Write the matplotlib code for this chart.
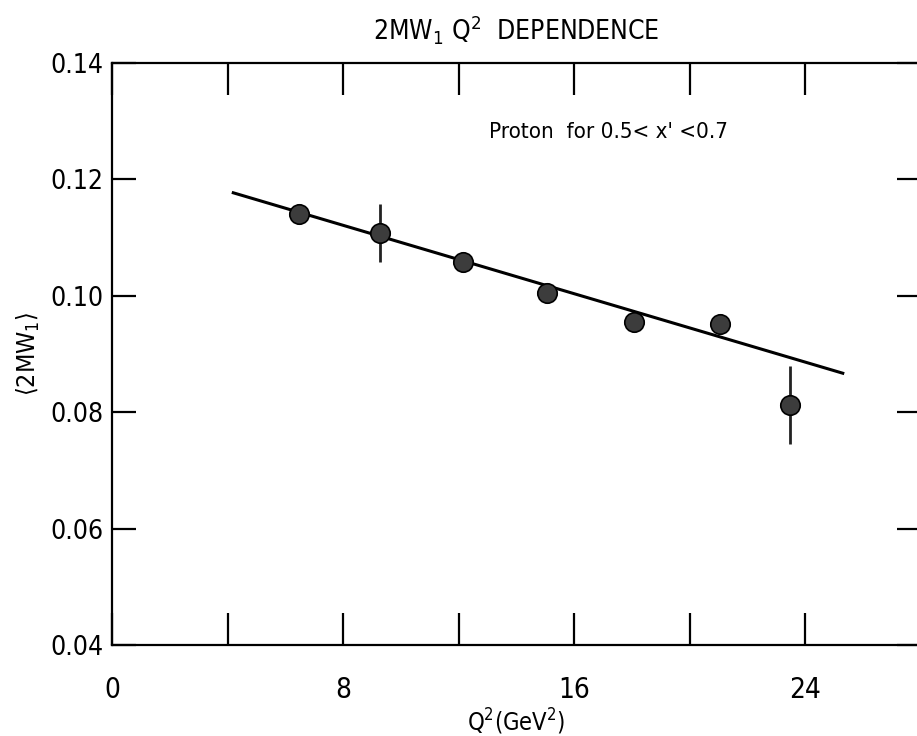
import numpy as np
import matplotlib
matplotlib.use("Agg")
import matplotlib.pyplot as plt

plt.rcParams['font.family'] = ['DejaVu Sans']
plt.rcParams['font.stretch'] = 'condensed'

# data
q2 = [6.47, 9.27, 12.15, 15.05, 18.06, 21.04, 23.46]
w1 = [0.1141, 0.1108, 0.1058, 0.1005, 0.0955, 0.0952, 0.0812]
w1_err = [0.0012, 0.0050, 0.0012, 0.0012, 0.0012, 0.0012, 0.0067]

# straight-line fit drawn through the points
fit_q2 = [4.2, 25.3]
fit_w1 = [0.1177, 0.0867]

xticks = [0, 4, 8, 12, 16, 20, 24, 28]
xticklabels = ['0', '', '8', '', '16', '', '24', '']
yticks = [0.04, 0.06, 0.08, 0.10, 0.12, 0.14]
yticklabels = ['0.04', '0.06', '0.08', '0.10', '0.12', '0.14']

fig = plt.figure(figsize=(9.17, 7.36), dpi=100)
# right spine sits just off the image, like the cropped scan
ax = fig.add_axes([0.1221, 0.1236, 0.882, 0.7908])

ax.plot(fit_q2, fit_w1, color='black', lw=2.2, zorder=2)
ax.errorbar(q2, w1, yerr=w1_err, fmt='o', ms=14, mfc='#3c3c3c', mec='black',
            mew=1.2, ecolor='#222222', elinewidth=2, capsize=0, zorder=3)

ax.set_xlim(0, 28)
ax.set_ylim(0.04, 0.14)
ax.set_xticks(xticks)
ax.set_xticklabels(xticklabels)
ax.set_yticks(yticks)
ax.set_yticklabels(yticklabels)

ax.tick_params(axis='x', direction='in', length=23, width=1.6, top=True,
               labelsize=20, pad=22)
ax.tick_params(axis='y', direction='in', length=17, width=1.6, right=True,
               labelsize=19, pad=6)
for s in ax.spines.values():
    s.set_linewidth(1.6)

ax.set_xlabel('Q$^2$(GeV$^2$)', fontsize=17, labelpad=2)
ax.set_ylabel(r'$\langle$2MW$_1\rangle$', fontsize=18, labelpad=6)
ax.set_title('2MW$_1$ Q$^2$  DEPENDENCE', fontsize=19, pad=17, x=0.5)

ax.text(17.2, 0.1281, "Proton  for 0.5< x' <0.7", fontsize=16,
        ha='center', va='center')

fig.savefig('out.png', dpi=100)
